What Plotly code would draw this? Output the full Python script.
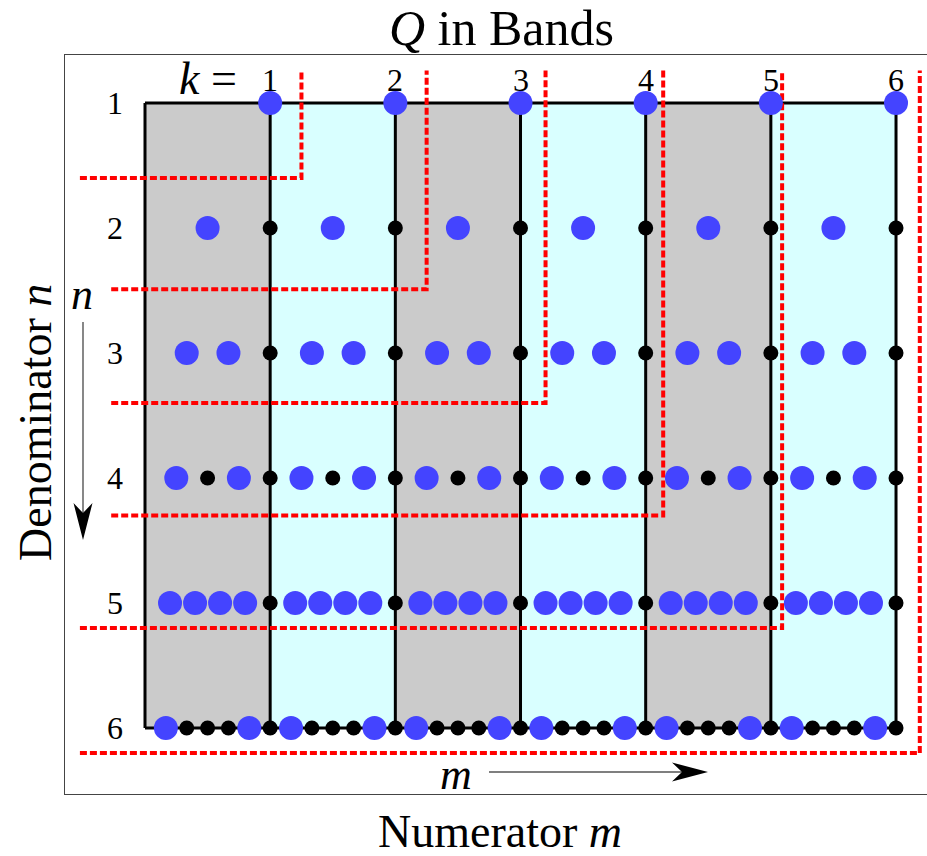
import math
import plotly.graph_objects as go

# ---- data ----
denominators = [1, 2, 3, 4, 5, 6]          # n (rows)
bands = [1, 2, 3, 4, 5, 6]                 # k (integer band edges)
band_colors = ["#cbcbcb", "#d9ffff"]
stair_corner_x = [1.25, 2.25, 3.20, 4.14, 5.09, 6.19]
stair_level_y = [1.60, 2.49, 3.40, 4.30, 5.20, 6.20]
stair_left_x = [-0.52, -0.27, -0.27, -0.27, -0.52, -0.52]
stair_top_y = 0.74
row_labels = ["1", "2", "3", "4", "5", "6"]
k_labels = ["1", "2", "3", "4", "5", "6"]

FONT = "Liberation Serif"
W, H = 927, 856
L, R, T, B = 65, 0, 55, 62
X0PX, XS = 145.0, 125.17
Y0PX, YS = 103.0, 125.0


def px2x(px):
    return (px - X0PX) / XS


def py2y(py):
    return 1 + (py - Y0PX) / YS


def px2paper(px):
    return (px - L) / (W - L - R)


def py2paper(py):
    return (H - B - py) / (H - T - B)


# fractions m/n for each row
blue_x, blue_y, black_x, black_y = [], [], [], []
kmax = bands[-1]
for n in denominators:
    for m in range(1, kmax * n + 1):
        if math.gcd(m, n) == 1:
            blue_x.append(m / n)
            blue_y.append(n)
        else:
            black_x.append(m / n)
            black_y.append(n)

shapes = []
ymin, ymax = denominators[0], denominators[-1]
for i, k in enumerate(bands):
    shapes.append(dict(type="rect", x0=k - 1, x1=k, y0=ymin, y1=ymax,
                       fillcolor=band_colors[i % 2], line=dict(width=0),
                       layer="below"))
blk = dict(color="black", width=3)
shapes.append(dict(type="line", x0=0, x1=kmax, y0=ymin, y1=ymin, line=blk, layer="below"))
shapes.append(dict(type="line", x0=0, x1=kmax, y0=ymax, y1=ymax, line=blk, layer="below"))
for k in [0] + bands:
    shapes.append(dict(type="line", x0=k, x1=k, y0=ymin, y1=ymax, line=blk, layer="below"))
for xl, yl, xc in zip(stair_left_x, stair_level_y, stair_corner_x):
    shapes.append(dict(type="path",
                       path=f"M{xl},{yl} L{xc},{yl} L{xc},{stair_top_y}",
                       line=dict(color="#ff0000", width=4, dash="7px,3px"),
                       layer="below"))

# arrows (decoration)
arrow_line = dict(color="#555555", width=1.4)
# n arrow (down)
shapes.append(dict(type="line", x0=px2x(83), x1=px2x(83), y0=py2y(322), y1=py2y(515),
                   line=arrow_line, layer="above"))
shapes.append(dict(type="path",
                   path=f"M{px2x(83)},{py2y(540)} L{px2x(73.5)},{py2y(503)} "
                        f"L{px2x(83)},{py2y(513)} L{px2x(92.5)},{py2y(503)} Z",
                   fillcolor="black", line=dict(width=0), layer="above"))
# m arrow (right)
shapes.append(dict(type="line", x0=px2x(489), x1=px2x(684), y0=py2y(772), y1=py2y(772),
                   line=arrow_line, layer="above"))
shapes.append(dict(type="path",
                   path=f"M{px2x(708)},{py2y(772)} L{px2x(672)},{py2y(762.5)} "
                        f"L{px2x(682)},{py2y(772)} L{px2x(672)},{py2y(781.5)} Z",
                   fillcolor="black", line=dict(width=0), layer="above"))

fig = go.Figure()
fig.add_trace(go.Scatter(x=blue_x, y=blue_y, mode="markers",
                         marker=dict(color="#4444ff", size=24, line=dict(width=0)),
                         hoverinfo="skip", showlegend=False))
fig.add_trace(go.Scatter(x=black_x, y=black_y, mode="markers",
                         marker=dict(color="black", size=15, line=dict(width=0)),
                         hoverinfo="skip", showlegend=False))

ann = []


def txt(x, y, text, size, **kw):
    d = dict(x=x, y=y, xref="x", yref="y", text=text, showarrow=False,
             font=dict(family=FONT, size=size, color="black"),
             xanchor="center", yanchor="middle")
    d.update(kw)
    ann.append(d)


def ptxt(px, py, text, size, **kw):
    d = dict(x=px2paper(px), y=py2paper(py), xref="paper", yref="paper", text=text,
             showarrow=False, font=dict(family=FONT, size=size, color="black"),
             xanchor="center", yanchor="middle")
    d.update(kw)
    ann.append(d)


for n, lab in zip(denominators, row_labels):
    txt(px2x(115), n, lab, 32)
for k, lab in zip(bands, k_labels):
    txt(k, py2y(80), lab, 32)
txt(px2x(208), py2y(78), "<i>k</i> =", 46)
txt(px2x(82), py2y(294), "<i>n</i>", 44)
txt(px2x(456), py2y(774), "<i>m</i>", 44)
ptxt(501, 28, "<i>Q</i> in Bands", 50)
ptxt(500, 832, "Numerator <i>m</i>", 46)
ptxt(35, 423, "Denominator <i>n</i>", 46, textangle=-90)

fig.update_layout(
    width=W, height=H,
    margin=dict(l=L, r=R, t=T, b=B, pad=0),
    paper_bgcolor="white", plot_bgcolor="white",
    shapes=shapes, annotations=ann,
    showlegend=False,
    xaxis=dict(range=[px2x(L), px2x(W - R)], showgrid=False, zeroline=False,
               showticklabels=False, ticks="", showline=True, mirror=True,
               linecolor="#444444", linewidth=1.3),
    yaxis=dict(range=[py2y(H - B), py2y(T)], showgrid=False, zeroline=False,
               showticklabels=False, ticks="", showline=True, mirror=False,
               linecolor="#444444", linewidth=1.3),
)
fig.write_html("out.html", config={"displayModeBar": False},
               post_script="document.body.style.margin='0';")
